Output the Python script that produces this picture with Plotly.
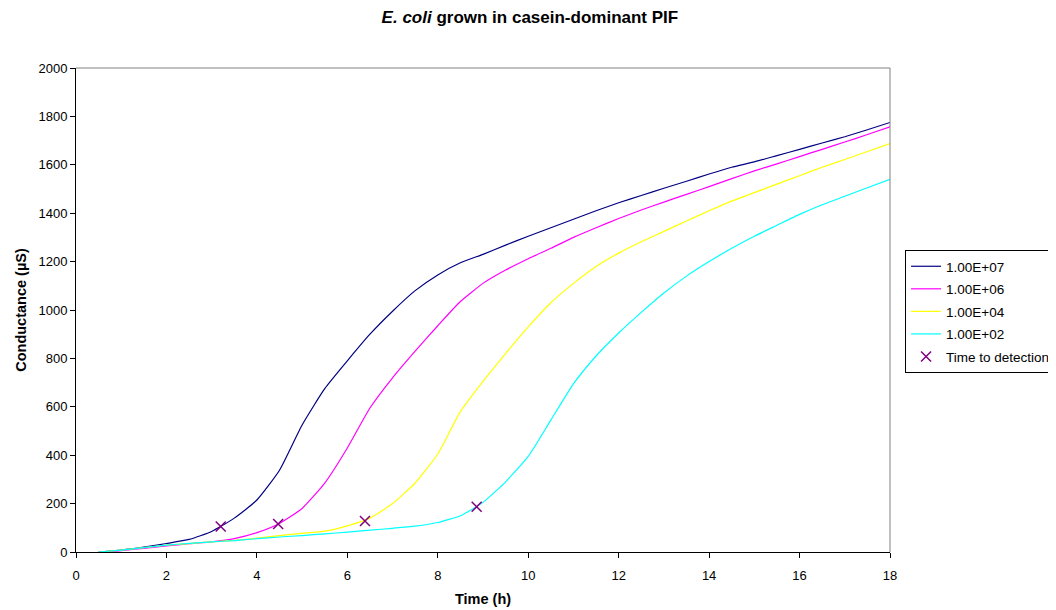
import plotly.graph_objects as go

# Time grid (h)
time_h = [0.5, 1, 1.5, 2, 2.5, 3, 3.5, 4, 4.5, 5, 5.5, 6, 6.5, 7, 7.5, 8, 8.5, 9,
          9.5, 10, 10.5, 11, 11.5, 12, 12.5, 13, 13.5, 14, 14.5, 15, 15.5, 16, 16.5, 17, 17.5, 18]

# Conductance (µS) per inoculum level
e7 = [0, 8, 20, 35, 52, 85, 140, 215, 338, 525, 675, 790, 900, 995, 1080, 1145, 1195, 1230,
      1268, 1305, 1340, 1375, 1410, 1443, 1473, 1503, 1532, 1562, 1590, 1612, 1638, 1664, 1690, 1716, 1745, 1775]
e6 = [0, 6, 15, 25, 34, 42, 55, 80, 118, 180, 285, 430, 595, 720, 830, 935, 1035, 1110,
      1165, 1212, 1255, 1300, 1340, 1378, 1413, 1446, 1478, 1510, 1543, 1575, 1604, 1634, 1664, 1694, 1725, 1757]
e4 = [0, 8, 18, 28, 35, 42, 48, 57, 68, 77, 86, 108, 140, 200, 285, 405, 580, 705,
      820, 930, 1030, 1110, 1180, 1235, 1282, 1325, 1368, 1410, 1450, 1485, 1520, 1555, 1590, 1622, 1655, 1688]
e2 = [0, 8, 18, 28, 36, 42, 47, 55, 62, 68, 75, 82, 90, 98, 107, 122, 150, 205,
      290, 395, 545, 695, 810, 905, 990, 1070, 1140, 1200, 1255, 1305, 1350, 1395, 1435, 1470, 1505, 1540]

# Time to detection markers
ttd_time = [3.2, 4.47, 6.39, 8.86]
ttd_value = [105, 116, 128, 187]

series_names = ["1.00E+07", "1.00E+06", "1.00E+04", "1.00E+02"]
series_values = [e7, e6, e4, e2]
series_colors = ["#000080", "#FF00FF", "#FFFF00", "#00FFFF"]

FONT = "Liberation Sans, Arial, sans-serif"

fig = go.Figure()
for i, (name, vals, col) in enumerate(zip(series_names, series_values, series_colors)):
    fig.add_trace(go.Scatter(x=time_h, y=vals, mode="lines", name=name, legendgroup=f"g{i}",
                             line=dict(color=col, width=1.2, shape="spline", smoothing=0.5)))

fig.add_trace(go.Scatter(x=ttd_time, y=ttd_value, mode="markers", name="Time to detection",
                         legendgroup="g9",
                         marker=dict(symbol="x-thin", size=10, color="#800080",
                                     line=dict(color="#800080", width=1.5))))

fig.update_layout(
    width=1048, height=602,
    paper_bgcolor="white", plot_bgcolor="white",
    margin=dict(l=68, r=166, t=60, b=58, autoexpand=False),
    font=dict(family=FONT, size=13, color="black"),
    title=dict(text="<b><i>E. coli</i> grown in casein-dominant PIF</b>",
               xref="container", yref="container",
               x=0.498, xanchor="center", y=0.985, yanchor="middle",
               font=dict(family=FONT, size=17, color="black")),
    showlegend=True,
    legend=dict(x=1.0185, y=0.624, xanchor="left", yanchor="top",
                bordercolor="black", borderwidth=1, bgcolor="white",
                font=dict(family=FONT, size=13.5, color="black"),
                traceorder="grouped", tracegroupgap=2, itemwidth=30),
    xaxis=dict(range=[0, 18], tickvals=list(range(0, 19, 2)), showgrid=False, zeroline=False,
               showline=True, linecolor="black", linewidth=1, ticks="outside", ticklen=5,
               tickcolor="black", tickfont=dict(size=13), ticklabelstandoff=6,
               title=dict(text="<b>Time (h)</b>", font=dict(family=FONT, size=14.5), standoff=12)),
    yaxis=dict(range=[0, 2000], tickvals=list(range(0, 2001, 200)), showgrid=False, zeroline=False,
               showline=True, linecolor="black", linewidth=1, ticks="outside", ticklen=5,
               tickcolor="black", tickfont=dict(size=13),
               title=dict(text="<b>Conductance (µS)</b>", font=dict(family=FONT, size=14.5), standoff=8)),
    shapes=[
        dict(type="line", xref="paper", yref="paper", x0=0, x1=1, y0=1, y1=1,
             line=dict(color="#808080", width=1)),
        dict(type="line", xref="paper", yref="paper", x0=1, x1=1, y0=0, y1=1,
             line=dict(color="#808080", width=1)),
    ],
)

fig.write_html("out.html")
